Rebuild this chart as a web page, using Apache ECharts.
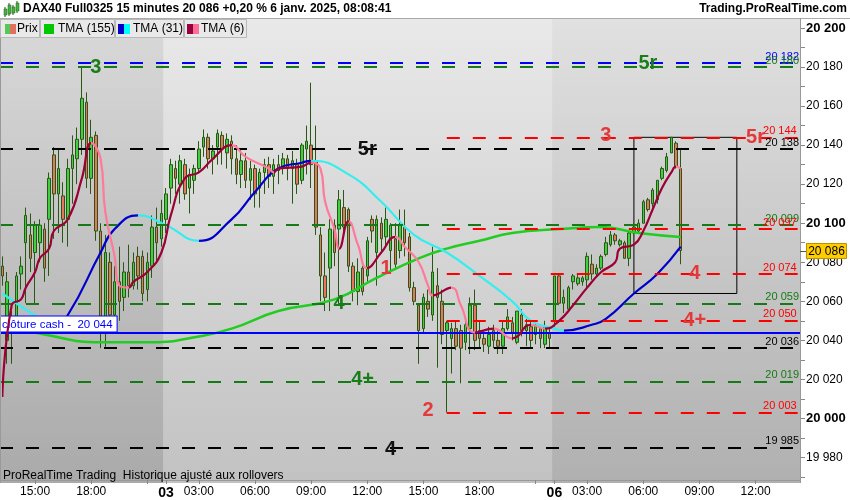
<!DOCTYPE html>
<html><head><meta charset="utf-8">
<script src="https://cdn.jsdelivr.net/npm/echarts@6/dist/echarts.min.js"></script>
<style>html,body{margin:0;padding:0;background:#fff}#c{width:850px;height:500px}</style>
</head><body><div id="c"></div>
<script>
// ---------- DATA ----------
const sessions = [['02','13:15','21:45'],['03','01:15','21:45'],['06','01:15','14:15']];
const open  = [20078,20040,20045,20051,20074,20090,20094,20085,20090,20097,20102,20135,20115,20114,20102,20128,20133,20143,20162,20123,20145,20096,20045,20080,20053,20070,20062,20075,20068,20083,20083,20066,20078,20098,20092,20102,20118,20128,20120,20130,20118,20122,20128,20139,20144,20133,20139,20145,20136,20142,20133,20125,20132,20122,20128,20118,20126,20130,20124,20130,20128,20133,20128,20130,20122,20138,20140,20132,20094,20073,20077,20099,20097,20108,20107,20078,20065,20077,20073,20102,20085,20100,20093,20086,20092,20086,20098,20093,20067,20058,20046,20060,20053,20068,20060,20045,20041,20046,20045,20039,20046,20058,20045,20041,20037,20045,20040,20037,20046,20049,20039,20053,20045,20047,20043,20046,20038,20044,20050,20073,20059,20056,20070,20069,20070,20071,20079,20074,20077,20084,20089,20094,20089,20090,20082,20095,20096,20100,20112,20110,20112,20123,20127,20136,20141,20128];
const high  = [20083,20075,20055,20075,20083,20108,20105,20101,20102,20100,20126,20139,20138,20121,20133,20145,20149,20180,20167,20153,20147,20100,20094,20085,20078,20088,20080,20089,20085,20088,20086,20085,20104,20108,20112,20118,20133,20132,20135,20133,20128,20130,20142,20148,20146,20140,20148,20147,20146,20145,20140,20138,20136,20132,20130,20128,20133,20134,20133,20135,20136,20135,20137,20133,20141,20150,20172,20150,20098,20085,20102,20102,20117,20117,20108,20080,20082,20078,20093,20104,20104,20103,20108,20100,20100,20107,20107,20095,20070,20059,20064,20066,20088,20077,20066,20050,20049,20050,20048,20051,20062,20066,20050,20044,20047,20048,20045,20050,20056,20052,20055,20056,20051,20050,20049,20047,20050,20046,20073,20074,20066,20068,20074,20074,20073,20085,20084,20079,20084,20093,20096,20095,20092,20091,20096,20100,20102,20112,20113,20118,20122,20129,20136,20144,20142,20138];
const low   = [20068,20028,20028,20046,20066,20059,20075,20059,20080,20070,20073,20092,20095,20090,20088,20110,20120,20135,20118,20115,20091,20036,20036,20050,20045,20050,20055,20062,20066,20066,20060,20060,20072,20080,20088,20095,20110,20115,20110,20112,20105,20115,20126,20134,20128,20125,20130,20130,20128,20125,20120,20118,20118,20112,20108,20108,20115,20118,20115,20120,20125,20122,20110,20115,20120,20125,20118,20094,20060,20055,20055,20078,20058,20094,20075,20060,20058,20063,20070,20090,20068,20085,20088,20076,20076,20082,20083,20065,20058,20028,20044,20052,20050,20026,20038,20003,20023,20035,20018,20035,20033,20035,20036,20034,20033,20036,20033,20033,20045,20040,20038,20042,20037,20036,20038,20036,20036,20036,20047,20058,20054,20055,20066,20068,20068,20066,20071,20072,20076,20083,20088,20089,20088,20082,20078,20094,20095,20100,20106,20108,20110,20122,20126,20136,20128,20079];
const close = [20073,20070,20050,20073,20078,20104,20082,20099,20099,20077,20123,20115,20128,20102,20128,20135,20143,20164,20123,20144,20096,20045,20085,20053,20070,20060,20075,20068,20080,20073,20064,20080,20098,20090,20105,20115,20130,20123,20132,20115,20125,20128,20138,20144,20133,20137,20146,20138,20143,20133,20125,20132,20122,20128,20115,20126,20130,20124,20130,20127,20133,20128,20132,20120,20140,20142,20130,20098,20073,20062,20097,20085,20112,20098,20078,20065,20075,20065,20091,20096,20102,20092,20102,20099,20079,20099,20090,20067,20060,20045,20062,20056,20075,20062,20043,20049,20046,20037,20036,20048,20058,20040,20041,20038,20043,20040,20037,20046,20052,20044,20055,20045,20048,20040,20047,20041,20047,20041,20073,20059,20062,20067,20073,20072,20072,20083,20074,20077,20083,20090,20094,20091,20091,20082,20095,20098,20100,20111,20107,20117,20122,20128,20134,20144,20129,20086];
// indicator curves: [bar index, value]
const tma155 = [[0,20048],[9,20043],[21,20039],[32,20039],[42,20042],[49,20046],[59,20055],[71,20061],[80,20072],[89,20082],[95,20087],[102,20091],[109,20095],[119,20097],[128,20098],[136,20095],[145,20093]];
const tma31 = [[0,20064],[8,20051],[11,20047],[14,20053],[21,20085],[24,20097],[29,20104],[35,20099],[42,20091],[49,20102],[54,20116],[59,20128],[64,20131],[66,20132],[74,20125],[81,20111],[88,20094],[95,20085],[102,20073],[109,20060],[113,20050],[118,20046],[120,20045],[126,20048],[129,20051],[135,20064],[140,20074],[145,20088]];
const tma6 = [[0,20011],[2,20058],[4,20061],[5,20067],[7,20075],[8,20082],[10,20087],[11,20096],[14,20102],[17,20123],[19,20141],[21,20133],[22,20106],[24,20083],[25,20068],[27,20067],[28,20070],[31,20075],[34,20085],[36,20104],[39,20123],[42,20126],[45,20133],[49,20140],[52,20134],[57,20128],[58,20126],[59,20128],[64,20129],[66,20131],[68,20128],[69,20111],[71,20097],[72,20087],[74,20101],[76,20089],[78,20077],[81,20085],[84,20093],[86,20088],[89,20080],[91,20068],[92,20063],[96,20067],[98,20058],[101,20044],[105,20046],[109,20041],[113,20048],[116,20046],[119,20050],[122,20058],[125,20067],[128,20075],[131,20080],[132,20087],[135,20089],[137,20096],[139,20107],[141,20118],[143,20126],[144,20129],[145,20128]];
// horizontal levels: [value, colour key, start bar (null = full width)]
const levels = [[20182,'blue',null],[20180,'green',null],[20144,'red',95],[20138,'black',null],[20099,'green',null],[20097,'red',95],[20074,'red',95],[20059,'green',null],[20050,'red',95],[20036,'black',null],[20019,'green',null],[20003,'red',95],[19985,'black',null]];
const cashClose = 20044;
const lastPrice = 20086;
// annotations: [text, bar, value, colour key]
const notes = [['3',20,20180,'green'],['5r',138,20182,'green'],['3',129,20145,'red'],['5r',161,20144,'red'],['5r',78,20138,'black'],['1',82,20077,'red'],['4',72,20059,'green'],['4',148,20074,'red'],['4+',148,20050,'red'],['4+',77,20020,'green'],['2',91,20004,'red'],['4',83,19984,'black']];
const boxArea = [[135,20144],[157,20064]];

// ---------- BUILD ----------
const FONT = 'Arial, "Liberation Sans", sans-serif';
const fmt = v => { const s = String(Math.round(v)); return s.slice(0, s.length-3) + ' ' + s.slice(-3); };
const categories = []; const dayStart = new Set(); const dayIdx = [];
sessions.forEach(([d,s,e],k)=>{
  let [h,m]=s.split(':').map(Number); const [eh,em]=e.split(':').map(Number);
  dayIdx.push(categories.length);
  if(k>0) dayStart.add(categories.length);
  while(h*60+m <= eh*60+em){ categories.push(d+' '+String(h).padStart(2,'0')+':'+String(m).padStart(2,'0')); m+=15; if(m>=60){m-=60;h++;} }
});
const hm = i => categories[i].slice(3).split(':').map(Number);
const isLabel = i => { if(dayStart.has(i)) return true; const [h,m]=hm(i); return m===0 && h%3===0 && h!==21; };
const isTick = i => { if(dayStart.has(i)) return true; const [h,m]=hm(i); return m===0 && h%3===0; };

const candles = open.map((o,i)=>[o, close[i], low[i], high[i]]);
const COL = {blue:'#0000ff', green:'#167a16', red:'#ff0000', black:'#000000'};
const NOTE = {green:'#1a7d1a', red:'#e4393b', black:'#111111'};

function slopePieces(pts, up, down){
  const p=[];
  for(let i=0;i<pts.length-1;i++){
    const c = pts[i+1][1]>=pts[i][1]?up:down;
    if(p.length && p[p.length-1].color===c) p[p.length-1].lt = pts[i+1][0];
    else p.push({gte:pts[i][0], lt:pts[i+1][0], color:c});
  }
  const last=p[p.length-1]; last.lte=last.lt+1; delete last.lt;
  return p;
}

const mlData = [];
levels.forEach(([v,c,s])=>{
  const ls = {color:COL[c], type:[13,13], width:2};
  const lb = {show:true, position:'insideEndTop', formatter: fmt(v), color:COL[c], fontSize:11, fontFamily:FONT, distance:1};
  if(s===null) mlData.push({yAxis:v, lineStyle:ls, label:lb});
  else mlData.push([{coord:[s,v], lineStyle:ls, label:lb},{coord:[categories.length-1,v]}]);
});
mlData.push({yAxis:cashClose, lineStyle:{color:'#0000ff', type:'solid', width:2},
  label:{show:true, position:'insideStartTop', formatter:'clôture cash -  '+fmt(cashClose), color:'#0000ff', backgroundColor:'#ffffff', borderColor:'#0000ff', borderWidth:1, padding:[2,4,1,3], fontSize:11.5, fontFamily:FONT, distance:[-1, 1]}});

const mpData = notes.map(([t,b,v,c])=>({name:t, coord:[b,v], label:{color:NOTE[c]}}));

const chart = echarts.init(document.getElementById('c'));
const option = {
  animation:false,
  backgroundColor:'#ffffff',
  grid:{left:0, right:50, top:28, bottom:20, containLabel:false},
  xAxis:{type:'category', data:categories, boundaryGap:true, offset:3,
    axisLine:{lineStyle:{color:'#999999'}},
    axisTick:{show:true, alignWithLabel:true, interval:(i)=>isTick(i), length:4, lineStyle:{color:'#888'}},
    axisLabel:{interval:(i)=>isLabel(i), color:'#000', fontSize:12, fontFamily:FONT, margin:6,
      formatter:(v,i)=> dayStart.has(i) ? '{d|'+v.slice(0,2)+'}' : v.slice(3),
      rich:{d:{fontWeight:'bold', fontSize:14, fontFamily:FONT, color:'#000'}}},
    splitLine:{show:false}},
  yAxis:{type:'value', position:'right', min:19970, max:20200, interval:10, scale:true,
    axisLine:{show:true, lineStyle:{color:'#999999'}},
    axisTick:{show:true, length:5, lineStyle:{color:'#888'}},
    axisLabel:{color:'#000', fontSize:12, fontFamily:FONT, margin:6,
      formatter:v=> (v%20!==0)?'' : ((v%100===0)?'{b|'+fmt(v)+'}':fmt(v)),
      rich:{b:{fontWeight:'bold', fontSize:13, fontFamily:FONT, color:'#000'}}},
    splitLine:{show:false}},
  visualMap:[
    {type:'piecewise', show:false, seriesIndex:2, dimension:0, pieces:slopePieces(tma31,'#0000cc','#33eeee')},
    {type:'piecewise', show:false, seriesIndex:3, dimension:0, pieces:slopePieces(tma6,'#9c0036','#ff7a9a')}
  ],
  series:[
    {type:'candlestick', data:candles, barWidth:3, z:2,
      itemStyle:{color:'#3fd03f', color0:'#e8765e', borderColor:'#2b5716', borderColor0:'#2b5716', borderWidth:1},
      markLine:{symbol:['none','none'], silent:true, animation:false, data:mlData},
      markArea:{silent:true, data:[[{coord:boxArea[0], itemStyle:{color:'rgba(0,0,0,0)', borderColor:'#000', borderWidth:1}},{coord:boxArea[1]}]]},
      markPoint:{symbol:'rect', symbolSize:1, silent:true, itemStyle:{color:'rgba(0,0,0,0)'},
        label:{show:true, position:'inside', formatter:p=>p.name, fontSize:20, fontWeight:'bold', fontFamily:FONT},
        data:mpData}},
    {type:'line', data:tma155, smooth:true, showSymbol:false, z:4, lineStyle:{width:2.5, color:'#22cc22'}, itemStyle:{color:'#22cc22'}},
    {type:'line', data:tma31, smooth:true, showSymbol:false, z:4, lineStyle:{width:2.2}},
    {type:'line', data:tma6, smooth:true, showSymbol:false, z:5, lineStyle:{width:2.2}}
  ]
};
chart.setOption(option);

// backgrounds and chrome
const half = 800/categories.length/2;
const px = i => chart.convertToPixel({xAxisIndex:0}, i);
const py = v => chart.convertToPixel({yAxisIndex:0}, v);
const b1 = px(dayIdx[1]) - half, b2 = px(dayIdx[2]) - half;
const grad = (t,b)=> new echarts.graphic.LinearGradient(0,0,0,1,[{offset:0,color:t},{offset:1,color:b}]);
const G = [];
G.push({type:'rect', z:-10, shape:{x:0,y:18,width:b1,height:465}, style:{fill:grad('#d9d9d9','#aaaaaa')}});
G.push({type:'rect', z:-10, shape:{x:b1,y:18,width:b2-b1,height:465}, style:{fill:grad('#e9e9e9','#c2c2c2')}});
G.push({type:'rect', z:-10, shape:{x:b2,y:18,width:800-b2,height:465}, style:{fill:grad('#e1e1e1','#b0b0b0')}});
G.push({type:'line', z:10, shape:{x1:0.5,y1:18,x2:0.5,y2:483}, style:{stroke:'#999', lineWidth:1}});
G.push({type:'line', z:10, shape:{x1:0,y1:18.5,x2:850,y2:18.5}, style:{stroke:'#aaa', lineWidth:1}});
G.push({type:'line', z:10, shape:{x1:800.5,y1:18,x2:800.5,y2:483}, style:{stroke:'#999', lineWidth:1}});
// current price tag on the axis
const yp = Math.round(py(lastPrice));
G.push({type:'line', z:10, shape:{x1:800,y1:yp+0.5,x2:806,y2:yp+0.5}, style:{stroke:'#555', lineWidth:1}});
G.push({type:'rect', z:10, shape:{x:806.5,y:yp-7.5,width:40,height:15}, style:{fill:'#ffcc00', stroke:'#b89400', lineWidth:1}});
G.push({type:'text', z:11, style:{x:826.5, y:yp+0.5, text:fmt(lastPrice), font:'12px '+FONT, fill:'#000', textAlign:'center', align:'center', textVerticalAlign:'middle', verticalAlign:'middle'}});
// header
G.push({type:'text', z:10, style:{x:23, y:9, text:'DAX40 Full0325 15 minutes 20 086 +0,20 % 6 janv. 2025, 08:08:41', font:'bold 12px '+FONT, fill:'#000', textVerticalAlign:'middle', verticalAlign:'middle'}});
G.push({type:'text', z:10, style:{x:847, y:9, text:'Trading.ProRealTime.com', font:'bold 12px '+FONT, fill:'#000', textAlign:'right', align:'right', textVerticalAlign:'middle', verticalAlign:'middle'}});
[[4,9,6,'#3fb83f'],[8,5,9,'#3fb83f'],[12,7,6,'#3fb83f'],[16,3,8,'#3fb83f']].forEach(([x,y,h,c])=>{
  G.push({type:'line', z:10, shape:{x1:x+1,y1:y-2,x2:x+1,y2:y+h+2}, style:{stroke:'#2b5716', lineWidth:1}});
  G.push({type:'rect', z:11, shape:{x:x,y:y,width:3,height:h}, style:{fill:c, stroke:'#2b5716', lineWidth:0.5}});
});
// legend row
const boxes = [[0,39,'Prix',17,[['#55c855',5,6],['#e07060',10,6]]],[40,74,'TMA (155)',58,[['#00c800',44,10]]],[115,68,'TMA (31)',133,[['#0000c8',118,6],['#00ffff',124,6]]],[184,62,'TMA (6)',201,[['#99003d',187,6],['#ff6e96',193,6]]]];
boxes.forEach(([x,w,t,tx,sw])=>{
  G.push({type:'rect', z:10, shape:{x:x+0.5,y:19.5,width:w,height:18}, style:{fill:'#e9e9e9', stroke:'#b8b8b8', lineWidth:1}});
  G.push({type:'text', z:11, style:{x:tx, y:29, text:t, font:'12px '+FONT, fill:'#000', textVerticalAlign:'middle', verticalAlign:'middle'}});
  sw.forEach(([c,sx,ww])=>G.push({type:'rect', z:12, shape:{x:sx,y:24,width:ww,height:10}, style:{fill:c}}));
});
G.push({type:'text', z:10, style:{x:3, y:476, text:'ProRealTime Trading  Historique ajusté aux rollovers', font:'12px '+FONT, fill:'#000', textVerticalAlign:'middle', verticalAlign:'middle'}});
chart.setOption({graphic:G});
</script></body></html>
